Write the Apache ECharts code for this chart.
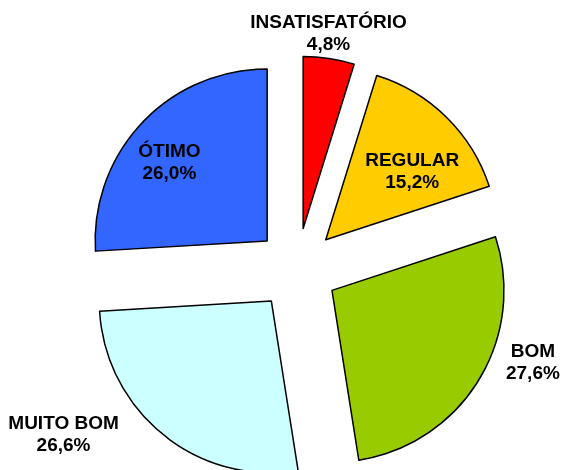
<!DOCTYPE html>
<html>
<head>
<meta charset="utf-8">
<script src="https://cdn.jsdelivr.net/npm/echarts@6/dist/echarts.min.js"></script>
<style>
  html, body { margin: 0; padding: 0; background: #fff; }
  #chart { width: 561px; height: 470px; }
</style>
</head>
<body>
<div id="chart"></div>
<script>
const categories = ['INSATISFATÓRIO', 'REGULAR', 'BOM', 'MUITO BOM', 'ÓTIMO']
const values = [4.8, 15.2, 27.6, 26.6, 26.0]
const colors = ['#ff0000', '#ffcc00', '#99cc00', '#ccffff', '#3366ff']

// label nudges, one per slice (Excel placed them by hand)
const labelOffsets = [[12, -107], [24, -5], [125, 26], [-152, 64], [-33, -17]]

const chart = echarts.init(document.getElementById('chart'))
chart.setOption({
  animation: false,
  backgroundColor: '#fff',
  series: [
    {
      type: 'pie',
      center: [297, 269],
      radius: [0, 172],
      startAngle: 90,
      clockwise: true,
      selectedMode: 'multiple',
      selectedOffset: 41,
      avoidLabelOverlap: false,
      silent: true,
      itemStyle: {
        borderColor: '#000',
        borderWidth: 1.5
      },
      label: {
        position: 'inside',
        color: '#000',
        fontFamily: 'Liberation Sans, Arial, sans-serif',
        fontWeight: 'bold',
        fontSize: 19,
        lineHeight: 22,
        align: 'center',
        formatter: p => p.name + '\n' + p.value.toFixed(1).replace('.', ',') + '%'
      },
      labelLine: { show: false },
      labelLayout: p => ({ dx: labelOffsets[p.dataIndex][0], dy: labelOffsets[p.dataIndex][1] }),
      data: categories.map((name, i) => ({
        name: name,
        value: values[i],
        selected: true,
        itemStyle: { color: colors[i] },
        select: { itemStyle: { color: colors[i], borderColor: '#000', borderWidth: 1.5 } }
      }))
    }
  ]
})
</script>
</body>
</html>
